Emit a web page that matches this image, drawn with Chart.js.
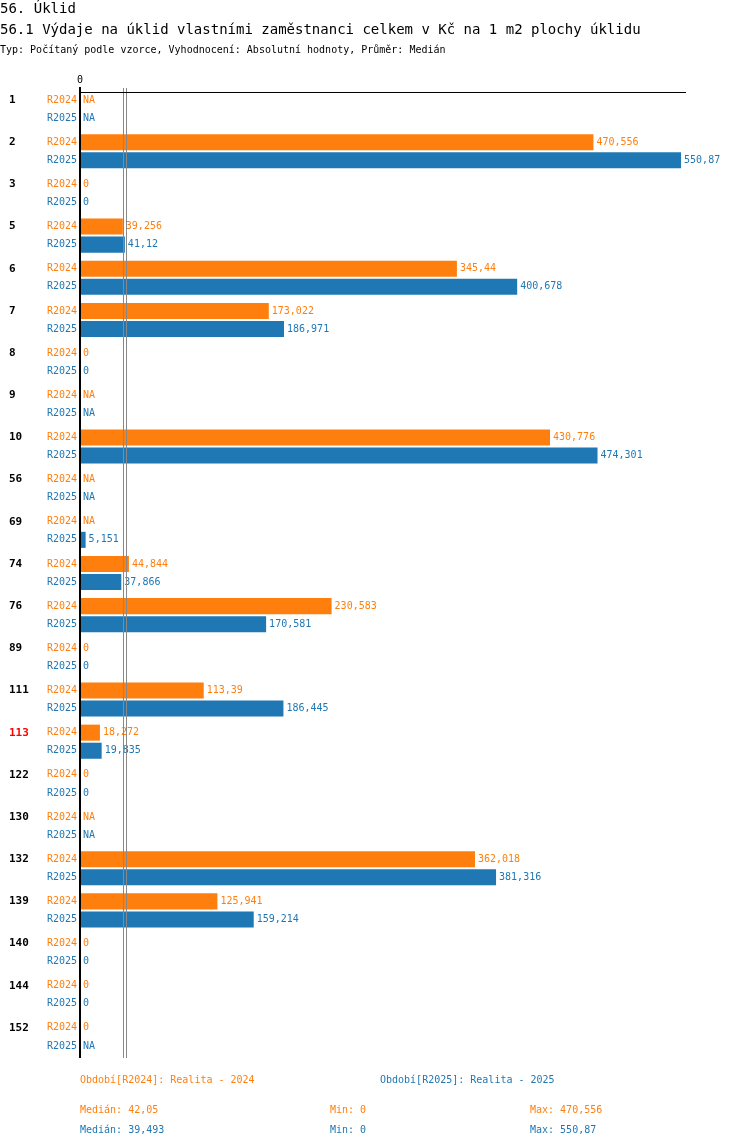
<!DOCTYPE html>
<html><head><meta charset="utf-8">
<script src="https://cdn.jsdelivr.net/npm/chart.js@4"></script>
<style>
body{margin:0;background:#fff;font-family:"DejaVu Sans Mono",monospace;}
#wrap{position:relative;width:750px;height:1148px;}
canvas{position:absolute;left:0;top:0;}
.t{position:absolute;white-space:nowrap;}
</style></head><body>
<div id="wrap">
<canvas id="c" width="750" height="1148"></canvas>
<div class="t" style="left:0;top:0;font-size:14px;">56. Úklid</div>
<div class="t" style="left:0;top:21px;font-size:14px;">56.1 Výdaje na úklid vlastními zaměstnanci celkem v Kč na 1 m2 plochy úklidu</div>
<div class="t" style="left:0;top:44px;font-size:10px;">Typ: Počítaný podle vzorce, Vyhodnocení: Absolutní hodnoty, Průměr: Medián</div>
<div class="t" style="left:80px;top:1074px;font-size:10px;color:#ff7f0e">Období[R2024]: Realita - 2024</div>
<div class="t" style="left:380px;top:1074px;font-size:10px;color:#1f77b4">Období[R2025]: Realita - 2025</div>
<div class="t" style="left:80px;top:1104px;font-size:10px;color:#ff7f0e">Medián: 42,05</div>
<div class="t" style="left:330px;top:1104px;font-size:10px;color:#ff7f0e">Min: 0</div>
<div class="t" style="left:530px;top:1104px;font-size:10px;color:#ff7f0e">Max: 470,556</div>
<div class="t" style="left:80px;top:1124px;font-size:10px;color:#1f77b4">Medián: 39,493</div>
<div class="t" style="left:330px;top:1124px;font-size:10px;color:#1f77b4">Min: 0</div>
<div class="t" style="left:530px;top:1124px;font-size:10px;color:#1f77b4">Max: 550,87</div>
</div>
<script>
const categories = ['1','2','3','5','6','7','8','9','10','56','69','74','76','89','111','113','122','130','132','139','140','144','152'];
const r2024 = [null,470.556,0,39.256,345.44,173.022,0,null,430.776,null,null,44.844,230.583,0,113.39,18.272,0,null,362.018,125.941,0,0,0];
const r2025 = [null,550.87,0,41.12,400.678,186.971,0,null,474.301,null,5.151,37.866,170.581,0,186.445,19.835,0,null,381.316,159.214,0,0,null];
const medians = [42.05, 39.493];
const highlight = '113';
const OR='#ff7f0e', BL='#1f77b4';
const fmt = v => v===null ? 'NA' : String(v).replace('.', ',');

const deco = {
  id:'deco',
  afterDatasetsDraw(chart){
    const {ctx, chartArea:a, scales:{x,y}} = chart;
    ctx.save();
    ctx.font = '10px "DejaVu Sans Mono", monospace';
    ctx.textBaseline='middle';
    chart.data.datasets.forEach((ds,di)=>{
      const meta = chart.getDatasetMeta(di);
      meta.data.forEach((bar,i)=>{
        const v = ds.data[i];
        ctx.fillStyle = ds.backgroundColor;
        const xe = v===null ? x.getPixelForValue(0) : bar.x;
        ctx.textAlign='left';
        ctx.fillText(fmt(v), xe+3, bar.y);
        ctx.textAlign='right';
        ctx.fillText(di===0?'R2024':'R2025', 77, bar.y);
      });
    });
    ctx.font = 'bold 11px "DejaVu Sans Mono", monospace';
    ctx.textAlign='left';
    categories.forEach((c,i)=>{
      const b = chart.getDatasetMeta(0).data[i];
      ctx.fillStyle = c===highlight ? '#ff0000' : '#000';
      ctx.fillText(c, 9, b.y);
    });
    // median lines
    ctx.strokeStyle='#888'; ctx.lineWidth=1;
    medians.forEach(m=>{
      const px = Math.round(x.getPixelForValue(m))+0.5;
      ctx.beginPath(); ctx.moveTo(px,a.top); ctx.lineTo(px,a.bottom); ctx.stroke();
    });
    // axes
    ctx.strokeStyle='#000';
    ctx.beginPath(); ctx.moveTo(a.left,92.5); ctx.lineTo(686,92.5); ctx.stroke();
    ctx.lineWidth=2;
    ctx.beginPath(); ctx.moveTo(a.left,87); ctx.lineTo(a.left,a.bottom); ctx.stroke();
    ctx.fillStyle='#000'; ctx.font='10px "DejaVu Sans Mono", monospace'; ctx.textAlign='center';
    ctx.fillText('0', a.left, 80);
    ctx.restore();
  }
};

new Chart(document.getElementById('c'), {
  type:'bar',
  data:{labels:categories, datasets:[
    {label:'R2024', data:r2024, backgroundColor:OR, categoryPercentage:36/42, barPercentage:16/18},
    {label:'R2025', data:r2025, backgroundColor:BL, categoryPercentage:36/42, barPercentage:16/18}
  ]},
  options:{
    indexAxis:'y', responsive:false, animation:false,
    layout:{padding:{left:80,right:64,top:88,bottom:90}},
    scales:{x:{display:false,min:0,max:555.4}, y:{display:false}},
    plugins:{legend:{display:false}, tooltip:{enabled:false}}
  },
  plugins:[deco]
});
</script>
</body></html>
